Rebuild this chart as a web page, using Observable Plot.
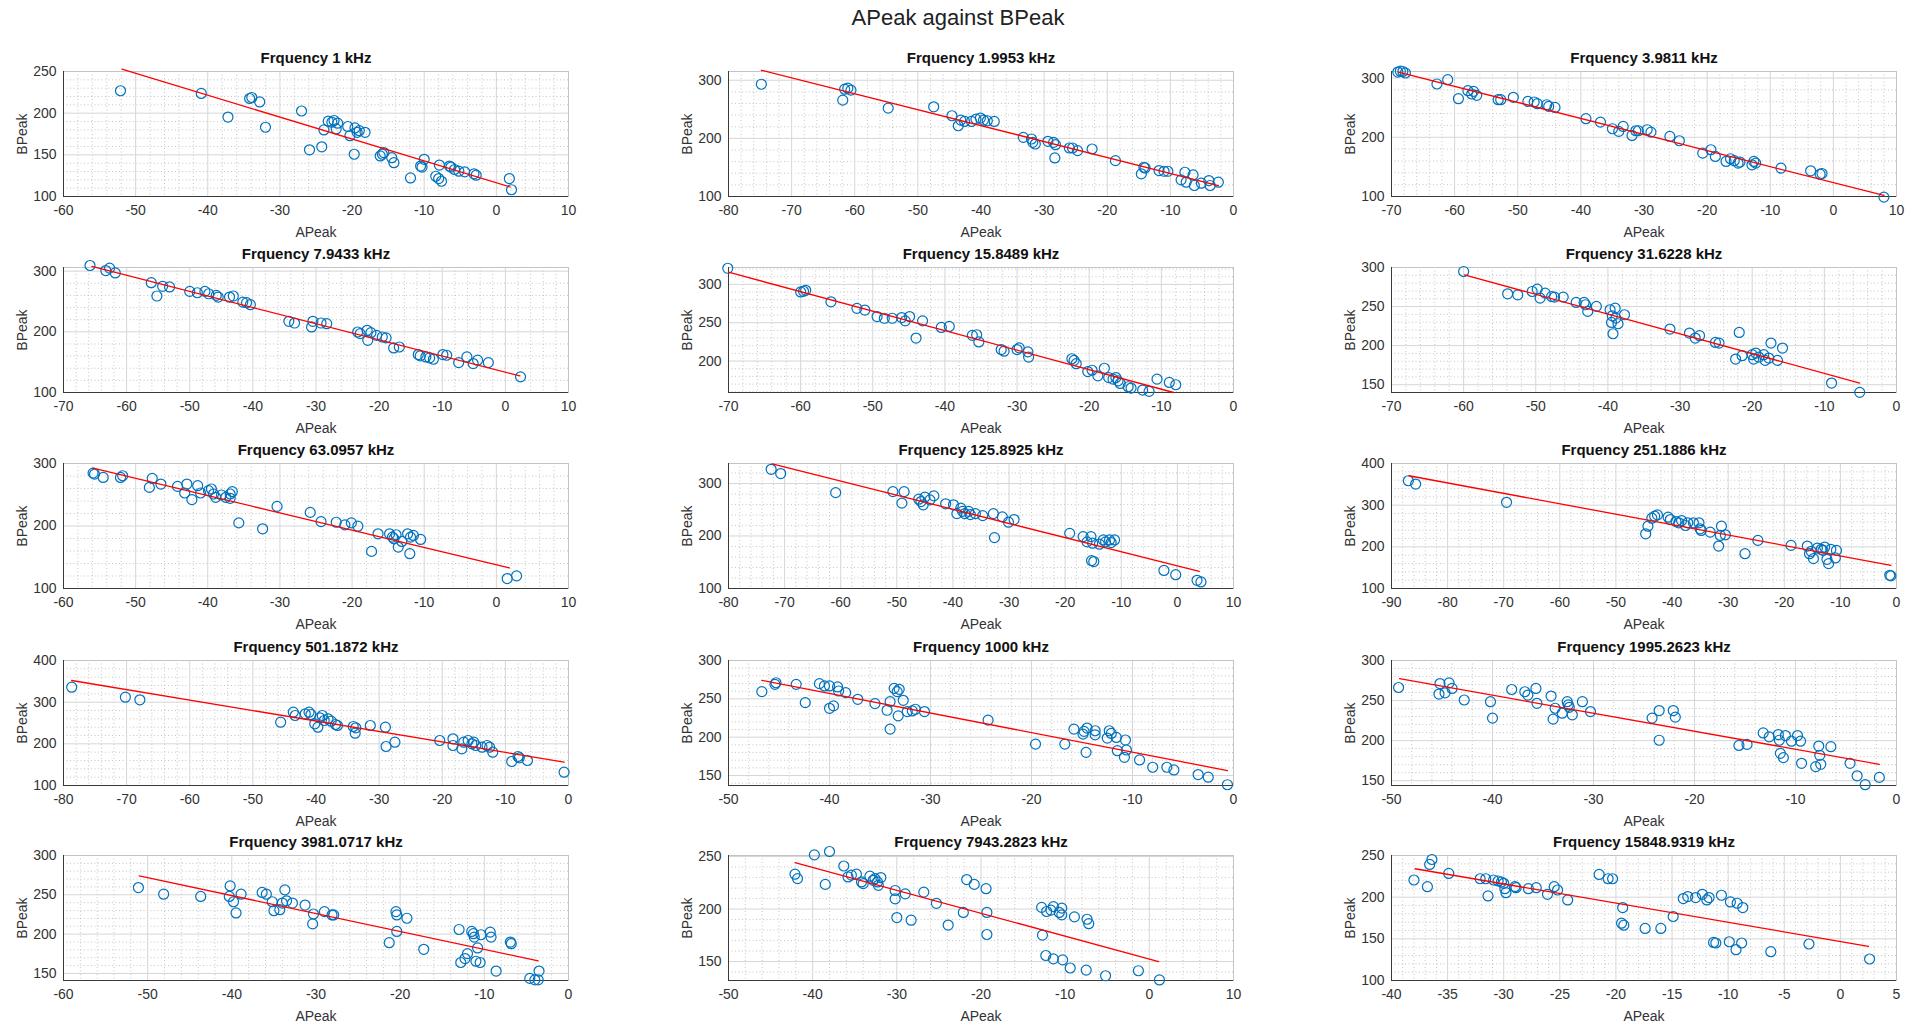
<!DOCTYPE html>
<html><head><meta charset="utf-8">
<script src="https://cdn.jsdelivr.net/npm/d3@7"></script>
<script src="https://cdn.jsdelivr.net/npm/@observablehq/plot@0.6"></script>
<style>
body{margin:0;background:#fff;font-family:"Liberation Sans",Arial,sans-serif;}
#root{position:relative;width:1916px;height:1026px;overflow:hidden;background:#fff;}
#title{position:absolute;left:0;width:1916px;top:5px;text-align:center;font-size:22px;color:#222;}
.panel{position:absolute;}
</style></head><body><div id="root"><div id="title">APeak against BPeak</div></div>
<script>
const titles = ["Frquency 1 kHz","Frquency 1.9953 kHz","Frquency 3.9811 kHz","Frquency 7.9433 kHz","Frquency 15.8489 kHz","Frquency 31.6228 kHz","Frquency 63.0957 kHz","Frquency 125.8925 kHz","Frquency 251.1886 kHz","Frquency 501.1872 kHz","Frquency 1000 kHz","Frquency 1995.2623 kHz","Frquency 3981.0717 kHz","Frquency 7943.2823 kHz","Frquency 15848.9319 kHz"];
const xDomains = [[-60,10],[-80,0],[-70,10],[-70,10],[-70,0],[-70,0],[-60,10],[-80,10],[-90,0],[-80,0],[-50,0],[-50,0],[-60,0],[-50,10],[-40,5]];
const xMajor = [10,10,10,10,10,10,10,10,10,10,10,10,10,10,5];
const yDomains = [[100,250],[100,315],[100,311],[100,306],[159,322],[140,300],[100,300],[100,338],[100,400],[100,400],[137,300],[144,300],[141,300],[132,251],[100,250]];
const yTicks = [[100,150,200,250],[100,200,300],[100,200,300],[100,200,300],[200,250,300],[150,200,250,300],[100,200,300],[100,200,300],[100,200,300,400],[100,200,300,400],[150,200,250,300],[150,200,250,300],[150,200,250,300],[150,200,250],[100,150,200,250]];
const yMinor = [10,20,20,20,10,10,20,20,20,20,10,10,10,10,10];

// regression line end points [x0, y0, x1, y1]
const fits = [[-51.9,252.8,1.9,111.4],[-74.8,317.1,-2.4,118.9],[-68.9,310.1,8.0,101.7],[-65.5,307.7,2.3,127.4],[-70,315.9,-8.3,159],[-59.9,290.6,-5.1,152.1],[-55.9,292.6,1.8,132.9],[-72.2,337.5,3.9,132.5],[-86.9,370.6,-1.0,155.7],[-78.7,352,-0.7,156],[-46.7,274.1,-0.6,156.5],[-49.2,277.4,-1.7,170.5],[-51.0,274,-3.6,166],[-42.1,244.2,1.1,150],[-37.9,234.1,2.5,141]];

// [APeak, BPeak]
const p1 = [[-52.1,226.9],[-40.9,223.7],[-34.2,217.6],[-33.9,218.8],[-32.8,213.5],[-37.2,195.3],[-32.0,183.1],[-27.0,202.6],[-25.9,156.0],[-24.2,159.6],[-23.9,179.9],[-23.3,190.4],[-22.8,189.2],[-22.5,191.2],[-22.2,181.1],[-22.0,188],[-20.6,184],[-20.3,173],[-19.6,182.3],[-19.3,177],[-19.0,179],[-18.2,177],[-19.7,150.7],[-16.1,148.7],[-15.8,150.7],[-15.6,152.7],[-14.5,146.6],[-14.2,140.6],[-11.9,122.3],[-10.5,136.5],[-10.3,135.3],[-10.0,144.6],[-8.4,124.3],[-8.0,121.5],[-7.6,118.3],[-7.9,137.7],[-6.5,136.5],[-6.3,135.3],[-5.8,132.4],[-5.2,130.4],[-4.4,129.6],[-3.1,127.2],[-2.8,125.6],[1.8,121.5],[2.1,108.1]];
const p2 = [[-74.8,293.1],[-61.9,265.7],[-61.6,284.6],[-61.1,286.3],[-60.6,282.9],[-54.7,252],[-47.5,254.3],[-44.6,238.9],[-43.6,221.7],[-43.2,231.4],[-42.6,229.1],[-41.5,229.1],[-40.8,233.1],[-40.1,234.9],[-39.6,231.4],[-39.0,230.3],[-37.9,229.1],[-33.3,201.7],[-32.0,198.9],[-31.8,193.1],[-31.4,190.3],[-29.4,194.9],[-28.5,193.1],[-28.3,166.3],[-28.2,189.1],[-26.0,183.4],[-25.5,183.4],[-24.7,178.9],[-22.4,181.7],[-18.7,161.7],[-14.6,138.9],[-14.2,150.3],[-14.0,149.1],[-11.8,144.6],[-11.0,143.4],[-10.4,143.4],[-8.3,128.6],[-7.7,141.7],[-7.5,124.6],[-6.4,137.1],[-6.2,118.9],[-5.1,122.9],[-3.9,127.4],[-3.7,118.9],[-2.4,124.6]];
const p3 = [[-69.0,310.1],[-68.6,311.5],[-68.2,311],[-67.8,308.5],[-62.8,289.9],[-61.1,297.2],[-59.4,265.1],[-57.9,278.6],[-57.3,273],[-57.0,277.5],[-56.5,270.7],[-53.1,263.4],[-52.7,263.4],[-50.7,267.4],[-48.4,260.6],[-47.4,259.5],[-46.9,256.7],[-45.4,254.9],[-45.1,252.1],[-44.1,250.3],[-39.2,231.3],[-36.9,225.6],[-35.0,214.4],[-34.0,209.9],[-33.3,218.3],[-31.9,203.1],[-31.3,211],[-30.9,211],[-29.5,212.7],[-28.9,208.7],[-25.9,201.4],[-24.4,194.1],[-20.7,173.2],[-19.4,178.9],[-18.7,167.6],[-17.0,159.2],[-16.3,163.7],[-15.7,160.4],[-15.1,156.3],[-14.8,158.1],[-12.9,153.5],[-12.6,159.2],[-12.3,156.3],[-8.3,147.9],[-3.6,143.4],[-2.1,137.7],[-1.8,138.8],[8.0,99]];
const p4 = [[-65.8,309.3],[-63.3,301],[-62.7,305],[-61.8,297],[-56.1,281],[-55.2,259],[-54.3,275],[-53.2,274],[-50.0,266.6],[-48.8,264.4],[-47.6,266.6],[-47.0,262.7],[-45.8,260],[-45.5,257.3],[-43.7,257.3],[-43.1,259],[-41.6,249],[-41.0,248],[-40.4,244.7],[-34.3,217.3],[-33.4,214.5],[-30.5,217.3],[-30.7,208],[-29.2,214.5],[-28.3,213.4],[-23.4,199.7],[-23.0,197],[-21.9,202.5],[-21.8,186],[-21.3,198.6],[-20.4,194.2],[-19.5,191.5],[-18.9,190],[-17.7,173.4],[-16.8,175],[-13.8,162.5],[-13.5,160.3],[-12.6,158.6],[-12.0,157],[-11.4,154.8],[-9.9,162.5],[-9.3,161.4],[-7.4,149.3],[-6.1,158.6],[-5.1,147.7],[-4.4,153.2],[-2.7,149.3],[2.4,125.8]];
const p5 = [[-70.1,321],[-60.0,290.1],[-59.6,291],[-59.3,292.3],[-55.8,277.3],[-52.2,268.7],[-51.1,266.5],[-49.4,258],[-48.4,255.8],[-47.3,255.8],[-46.0,256.7],[-45.5,252.4],[-44.9,258],[-43.1,252.4],[-44.0,230],[-40.5,243.8],[-39.4,245.1],[-36.2,233.5],[-35.6,234.3],[-35.3,224.9],[-32.2,215],[-31.8,212.9],[-30.0,215],[-29.7,217.2],[-28.5,212],[-28.4,205.2],[-22.4,203],[-22.1,200.9],[-21.8,196.6],[-20.2,186.3],[-19.6,188],[-18.8,180.7],[-17.9,190.6],[-17.3,178.5],[-16.7,176.4],[-16.3,178.5],[-16.0,174.2],[-15.7,170.8],[-14.6,166.5],[-14.2,164.8],[-12.6,162.2],[-11.7,160.5],[-10.6,176.4],[-8.9,172.1],[-8.0,169.1]];
const p6 = [[-60.0,294.9],[-53.9,266.3],[-52.5,265.0],[-50.5,269.3],[-49.8,272.3],[-49.4,260.8],[-48.7,267.2],[-47.8,262.9],[-47.4,262.1],[-46.2,262.1],[-44.4,255.3],[-43.3,255.3],[-43.1,252.3],[-42.8,243.8],[-41.6,250.2],[-39.7,245.9],[-39.4,238.2],[-39.5,229.7],[-39.3,215.2],[-39.0,248.0],[-38.9,235.2],[-38.6,228.0],[-37.7,239.5],[-31.4,221.2],[-28.7,216.1],[-27.9,209.7],[-27.3,212.7],[-25.1,204.1],[-24.6,203.3],[-22.3,182.8],[-21.8,216.9],[-21.4,187.1],[-20.0,188.4],[-19.8,182.8],[-19.5,190.5],[-19.1,185.4],[-18.4,188.4],[-18.2,181.1],[-17.7,184.1],[-17.4,203.3],[-16.5,181.1],[-15.8,196.9],[-9.0,152.1],[-5.1,140.2]];
const p7 = [[-55.9,284.6],[-55.7,283],[-54.5,277.7],[-52.1,277.7],[-51.8,280.4],[-48.1,261.8],[-47.7,276.1],[-46.5,267.1],[-44.2,263.4],[-43.2,252.8],[-42.9,267.1],[-42.2,242.2],[-41.4,264.5],[-41.0,252.8],[-39.9,256.5],[-39.5,259.2],[-39.2,251.2],[-38.9,245.9],[-38.1,249.6],[-37.5,245.9],[-36.9,251.2],[-36.6,254.9],[-36.9,244.3],[-35.7,205],[-32.4,195.5],[-30.4,231.4],[-25.8,221.8],[-24.3,207],[-22.2,206],[-21.0,201.8],[-20.1,205],[-19.2,199.7],[-17.3,159.4],[-16.4,187.5],[-14.8,187.5],[-14.4,182.2],[-14.2,179.6],[-13.9,186],[-13.6,166.3],[-13.1,175.3],[-12.3,187.5],[-12.0,155.7],[-11.9,182.2],[-11.5,184.9],[-10.5,178.5],[1.5,115.9],[2.8,120.2]];
const p8 = [[-72.4,326.9],[-70.7,318.8],[-60.9,282.5],[-50.7,284.4],[-49.1,262.5],[-48.7,284.4],[-46.1,270],[-45.7,265.6],[-45.3,259.4],[-45.0,273.8],[-44.1,268.8],[-43.4,276.3],[-41.3,261.3],[-39.9,259.4],[-39.3,242.5],[-38.6,253.1],[-38.3,246.9],[-37.9,242.5],[-37.2,246.9],[-36.9,240.6],[-36.0,242.5],[-34.7,238.8],[-32.8,242.5],[-32.6,196.9],[-31.2,236.3],[-30.1,226.3],[-29.1,231.3],[-19.2,205],[-16.8,198.8],[-16.1,188.8],[-15.4,198.8],[-15.1,186.3],[-15.3,153.1],[-14.9,151.3],[-13.9,184.4],[-13.2,192.5],[-12.8,188.8],[-12.1,192.5],[-11.8,187.5],[-11.2,192.5],[-2.4,134.4],[-0.3,126.3],[3.5,115.6],[4.2,112.5]];
const p9 = [[-87.0,358.6],[-85.7,350.7],[-69.5,306.9],[-44.7,231.3],[-44.3,249.6],[-43.6,268.7],[-43.1,273.5],[-42.6,276.7],[-40.7,271.1],[-40.3,265.5],[-39.3,260.7],[-38.8,257.6],[-38.3,263.1],[-37.6,251.2],[-37.2,257.6],[-36.2,257.6],[-35.2,257.6],[-35.0,243.3],[-34.8,239.3],[-33.2,235.3],[-31.7,201.9],[-31.4,227.3],[-31.2,249.6],[-30.5,228.9],[-27.0,183.6],[-24.7,215.5],[-18.8,203.5],[-15.9,201.9],[-15.5,183.6],[-15.2,189.2],[-14.8,171.7],[-14.1,197.1],[-13.4,194],[-13.1,191.5],[-12.8,199.5],[-12.4,170.1],[-12.1,159.7],[-11.7,194],[-10.7,191.5],[-10.9,173.3],[-1.2,131.8],[-1.0,130.3]];
const p10 = [[-78.7,336],[-70.2,312],[-67.9,305.6],[-45.6,252],[-43.6,276],[-43.3,268],[-41.7,272],[-41.1,276],[-40.8,270.4],[-40.2,248],[-39.7,240],[-39.4,262.4],[-39.0,268],[-38.7,256],[-38.1,260],[-37.6,254.4],[-36.9,246.4],[-36.6,244],[-34.1,241.6],[-33.8,225.6],[-33.7,238.4],[-31.4,244],[-29.0,240],[-28.9,193.6],[-27.5,204],[-20.4,208],[-18.3,212],[-18.3,196],[-16.9,188],[-16.6,204],[-15.9,208],[-15.3,200],[-15.0,204],[-14.7,196],[-13.7,192],[-12.9,196],[-12.5,192],[-12.0,180],[-9.0,157.6],[-8.0,169.6],[-7.8,166.4],[-6.5,160],[-0.7,132]];
const p11 = [[-46.7,259.4],[-45.4,268.9],[-45.3,271],[-43.3,268.9],[-42.4,245.1],[-41.0,269.8],[-40.5,266.8],[-40.0,266.8],[-40.0,237.7],[-39.6,240.8],[-39.2,265.5],[-39.1,260.2],[-38.4,258.1],[-37.2,249.4],[-35.5,243.8],[-34.3,235.1],[-34.0,246.4],[-34.0,210.5],[-33.6,263.7],[-33.3,259.4],[-33.2,227.8],[-33.1,262.4],[-32.7,248.1],[-32.3,233.4],[-31.8,234.2],[-31.5,236.4],[-30.6,233.4],[-24.3,222.2],[-19.6,191],[-16.7,191],[-15.8,210.5],[-14.9,204],[-14.8,207.6],[-14.6,180.2],[-14.5,211.9],[-13.7,203.1],[-13.7,208.4],[-12.5,198.9],[-12.3,208.4],[-12.1,204.9],[-11.6,199.7],[-11.5,182.4],[-10.8,173.8],[-10.7,196.3],[-10.6,183.3],[-9.3,170.3],[-8.0,160.8],[-6.6,160.8],[-5.9,157.3],[-3.5,151.3],[-2.5,147.8],[-0.6,138]];
const p12 = [[-49.3,266.3],[-45.2,271.2],[-45.3,258.1],[-44.7,259.7],[-44.3,272.1],[-44.0,265.1],[-42.8,250.7],[-40.2,248.6],[-40.0,228.1],[-38.1,263.8],[-36.8,261],[-36.5,256.8],[-35.7,265.1],[-35.6,246.6],[-34.2,255.6],[-34.0,226.8],[-33.8,240.4],[-33.1,234.2],[-32.6,248.6],[-32.5,244.5],[-32.4,241.6],[-32.1,232.2],[-31.1,248.6],[-30.3,236.3],[-24.2,228.1],[-23.5,237.5],[-23.5,200.5],[-22.1,237.5],[-21.9,229.3],[-15.6,194],[-14.8,195.3],[-13.2,209.6],[-12.6,204.7],[-11.7,207.6],[-11.6,200.5],[-11.5,184.1],[-11.2,178.8],[-11.0,206.3],[-10.4,199.3],[-9.8,206.3],[-9.5,199.3],[-9.4,171.7],[-8.0,167.6],[-7.7,193.2],[-7.6,181.7],[-7.5,170.5],[-6.5,192.4],[-4.6,171.7],[-3.9,156.1],[-3.1,145],[-1.7,154.1]];
const p13 = [[-51.1,259.2],[-48.1,250.8],[-43.7,247.9],[-40.2,261.3],[-40.3,247.9],[-39.8,241.2],[-39.5,226.9],[-38.9,250.8],[-36.4,253],[-35.9,250.8],[-35.2,241.2],[-35.0,229.8],[-34.3,231.1],[-34.0,239.5],[-33.7,256.3],[-33.5,242.4],[-32.8,239.5],[-31.3,237],[-30.3,225.6],[-30.4,213],[-29.0,228.6],[-28.1,224.4],[-27.9,224.4],[-21.3,189.1],[-20.5,228.6],[-20.4,224.4],[-20.4,203.4],[-19.2,220.2],[-17.2,180.7],[-13.0,205.9],[-12.8,163.9],[-12.3,168.9],[-12.0,175.2],[-11.5,203.4],[-11.3,200.5],[-11.2,196.2],[-11.0,165.5],[-10.8,182.4],[-10.5,163.9],[-10.4,199.2],[-9.3,202.5],[-9.2,196.2],[-8.6,153.0],[-6.9,189.9],[-6.8,187.8],[-4.6,143.7],[-4.0,141.8],[-3.6,141.8],[-3.5,153]];
const p14 = [[-42.1,233.2],[-41.8,229],[-39.8,251.6],[-38.5,223.5],[-38.0,254.8],[-36.3,241],[-35.8,230.6],[-35.4,232.3],[-34.8,233.2],[-34.2,225.8],[-34.0,224.2],[-33.2,231.3],[-32.8,227.4],[-32.6,229],[-32.3,225.8],[-32.2,222.6],[-31.9,230],[-30.2,217.7],[-30.2,209.7],[-30.0,191.9],[-29.0,214.5],[-28.3,189.4],[-26.8,216.1],[-25.3,205.5],[-23.9,184.8],[-22.1,196.8],[-21.7,228.1],[-20.8,223.5],[-19.4,219.4],[-19.3,196.8],[-19.3,175.8],[-12.8,201.6],[-12.7,175.2],[-12.3,155.8],[-12.2,197.7],[-11.7,199],[-11.4,202.3],[-11.4,152.6],[-10.7,196.8],[-10.4,200.9],[-10.3,151.6],[-10.4,194.5],[-8.9,192.6],[-9.4,143.9],[-7.4,190.3],[-7.2,186.1],[-7.5,141.9],[-5.2,136.5],[-1.3,141.3],[1.2,132.5]];
const p15 = [[-38.0,220.6],[-36.8,212.6],[-36.4,245.2],[-36.6,239.3],[-34.9,228.5],[-32.1,222.1],[-31.6,222.1],[-31.4,201.5],[-30.9,220.6],[-30.5,219.4],[-30.2,218.2],[-30.0,216.6],[-29.8,205.4],[-29.9,210.2],[-29.0,212.6],[-28.9,211.4],[-27.8,210.2],[-27.1,211.4],[-26.1,203.4],[-25.5,212.6],[-25.2,208.6],[-24.3,196.7],[-21.5,227.3],[-20.7,222.1],[-20.3,222.1],[-19.4,187.5],[-19.5,168.8],[-19.3,166.4],[-17.4,162.5],[-16.0,162.5],[-14.9,176.8],[-14.0,198.3],[-13.6,200.7],[-12.9,199.5],[-12.3,203.4],[-11.9,196.7],[-11.7,199.5],[-11.3,145.7],[-11.1,145],[-10.6,202.3],[-9.9,146.5],[-9.8,194.3],[-9.2,192.7],[-9.3,137],[-8.8,145],[-8.7,187.5],[-6.2,134.6],[-2.8,143.8],[2.6,125.8]];

const points = [p1,p2,p3,p4,p5,p6,p7,p8,p9,p10,p11,p12,p13,p14,p15];

// layout (pixel geometry of each axes box)
const colLeft = [63, 728, 1391];
const rowTop = [71, 267, 463, 660, 855];
const FW = 505, FH = 125;
const mL = 66, mR = 18, mT = 32, mB = 46;
const blue = "#0072BD", red = "#ff0000";
const root = document.getElementById("root");

function steps(lo, hi, s) {
  const out = [];
  for (let k = Math.ceil(lo / s - 1e-9); k * s <= hi + 1e-9; k++) out.push(+(k * s).toFixed(6));
  return out;
}

points.forEach((pts, i) => {
  const r = Math.floor(i / 3), c = i % 3;
  const [x0, x1] = xDomains[i], [y0, y1] = yDomains[i];
  const xt = steps(x0, x1, xMajor[i]);
  const xm = steps(x0, x1, xMajor[i] / 5).filter(v => !xt.some(t => Math.abs(t - v) < 1e-6));
  const yt = yTicks[i];
  const ym = steps(y0, y1, yMinor[i]).filter(v => !yt.includes(v));
  const data = pts.map(([a, b]) => ({a, b}));
  const f = fits[i];
  const fitData = [{a: f[0], b: f[1]}, {a: f[2], b: f[3]}];
  const chart = Plot.plot({
    width: FW + mL + mR, height: FH + mT + mB,
    marginLeft: mL, marginRight: mR, marginTop: mT, marginBottom: mB,
    style: {fontFamily: '"Liberation Sans", Arial, sans-serif', fontSize: "14px", color: "#333", background: "transparent", overflow: "visible"},
    x: {domain: [x0, x1]},
    y: {domain: [y0, y1]},
    marks: [
      Plot.ruleX(xm, {stroke: "#b8b8b8", strokeDasharray: "1,2.5", strokeWidth: 0.8}),
      Plot.ruleY(ym, {stroke: "#b8b8b8", strokeDasharray: "1,2.5", strokeWidth: 0.8}),
      Plot.ruleX(xt, {stroke: "#d6d6d6", strokeWidth: 1}),
      Plot.ruleY(yt, {stroke: "#d6d6d6", strokeWidth: 1}),
      Plot.frame({stroke: "#c4c4c4"}),
      Plot.ruleY([y0], {stroke: "#3a3a3a", strokeWidth: 1}),
      Plot.ruleX([x0], {stroke: "#3a3a3a", strokeWidth: 1}),
      Plot.dot(data, {x: "a", y: "b", r: 5, stroke: blue, strokeWidth: 1.2, fill: "none"}),
      Plot.line(fitData, {x: "a", y: "b", stroke: red, strokeWidth: 1.3}),
      Plot.axisX({ticks: xt, tickSize: 0, tickPadding: 9, tickFormat: d => String(d), label: "APeak", labelAnchor: "center", labelArrow: "none", labelOffset: 40, fill: "#333"}),
      Plot.axisY({ticks: yt, tickSize: 0, tickPadding: 7, tickFormat: d => String(d), label: "BPeak", labelAnchor: "center", labelArrow: "none", labelOffset: 46, fill: "#333"}),
      Plot.text([titles[i]], {text: d => d, frameAnchor: "top", dy: -13, lineAnchor: "middle", fontWeight: "bold", fontSize: 15, fill: "#111"})
    ]
  });
  const div = document.createElement("div");
  div.className = "panel";
  div.style.left = (colLeft[c] - mL) + "px";
  div.style.top = (rowTop[r] - mT) + "px";
  div.appendChild(chart);
  root.appendChild(div);
});
</script>
</body></html>
